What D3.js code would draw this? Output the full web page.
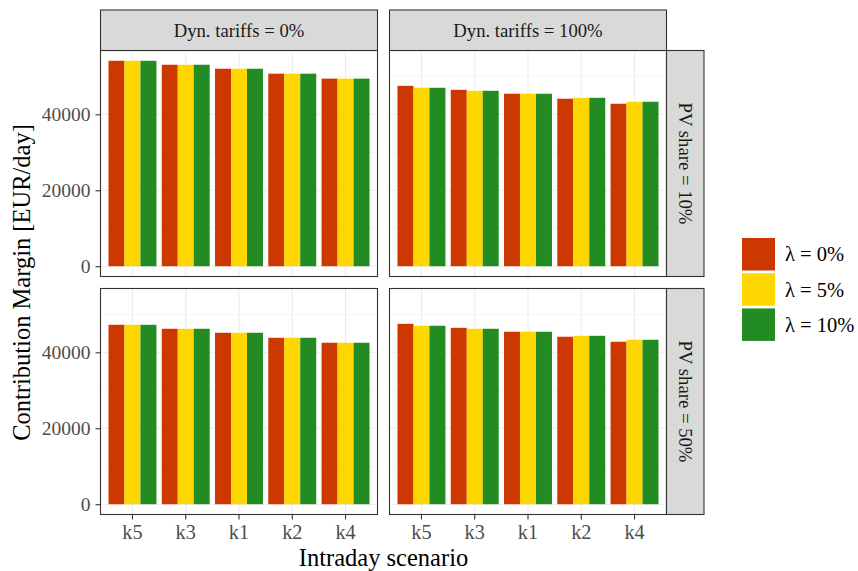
<!DOCTYPE html>
<html><head><meta charset="utf-8">
<script src="https://cdn.jsdelivr.net/npm/d3@7"></script>
<style>body{margin:0;background:#fff}svg{display:block;font-family:"Liberation Serif","Times New Roman",serif}</style>
</head><body><svg id="c" width="858" height="571"></svg>
<script>
const scenarios = ["k5","k3","k1","k2","k4"];
const lambdas = ["λ = 0%","λ = 5%","λ = 10%"];
const tariffs = ["Dyn. tariffs = 0%","Dyn. tariffs = 100%"];
const pvShares = ["PV share = 10%","PV share = 50%"];
const colors = ["#CD3700","#FFD700","#228B22"];
const yTicks = [0,20000,40000];
const yMinor = [10000,30000,50000];

// values per scenario, one array per panel and lambda
const pv10_dyn0_l0  = [54100,53050,52000,50700,49400];
const pv10_dyn0_l5  = [54100,53050,52000,50700,49400];
const pv10_dyn0_l10 = [54100,53050,52000,50700,49400];
const pv10_dyn100_l0  = [47500,46450,45420,44100,42780];
const pv10_dyn100_l5  = [46990,46200,45420,44350,43310];
const pv10_dyn100_l10 = [46990,46200,45420,44350,43310];
const pv50_dyn0_l0  = [47250,46200,45150,43830,42520];
const pv50_dyn0_l5  = [47250,46200,45150,43830,42520];
const pv50_dyn0_l10 = [47250,46200,45150,43830,42520];
const pv50_dyn100_l0  = [47500,46450,45420,44100,42780];
const pv50_dyn100_l5  = [46990,46200,45420,44350,43310];
const pv50_dyn100_l10 = [46990,46200,45420,44350,43310];

const panelData = [
  [[pv10_dyn0_l0,pv10_dyn0_l5,pv10_dyn0_l10],[pv10_dyn100_l0,pv10_dyn100_l5,pv10_dyn100_l10]],
  [[pv50_dyn0_l0,pv50_dyn0_l5,pv50_dyn0_l10],[pv50_dyn100_l0,pv50_dyn100_l5,pv50_dyn100_l10]]
];

const svg = d3.select("#c");
const colX = [100.5, 389.5], PW = 277;
const rowY = [50.5, 288.5], PH = 226;
const stripTop = 10;
const stripRW = 37.5;
const FT = 19.5, FS = 18.7, FL = 20.5, FA = 24.5;

const maxV = d3.max(panelData.flat(2).flat());
const yDom = [-0.05*maxV, 1.05*maxV];
const x0 = d3.scaleBand().domain(scenarios).range([0,PW]).paddingInner(0.1).paddingOuter(0.15);
const x1 = d3.scaleBand().domain(d3.range(3)).range([0,x0.bandwidth()]);

const grey20 = "#333333", grid = "#EBEBEB", tickCol = "#4D4D4D";

panelData.forEach((row, r) => {
  row.forEach((series, c) => {
    const y = d3.scaleLinear().domain(yDom).range([PH,0]);
    const g = svg.append("g").attr("transform",`translate(${colX[c]},${rowY[r]})`);
    g.append("rect").attr("width",PW).attr("height",PH).attr("fill","#fff");
    g.selectAll(".mn").data(yMinor).join("line").attr("x1",0).attr("x2",PW)
      .attr("y1",d=>y(d)).attr("y2",d=>y(d)).attr("stroke",grid).attr("stroke-width",0.55);
    g.selectAll(".mj").data(yTicks).join("line").attr("x1",0).attr("x2",PW)
      .attr("y1",d=>y(d)).attr("y2",d=>y(d)).attr("stroke",grid).attr("stroke-width",1.1);
    g.selectAll(".vx").data(scenarios).join("line")
      .attr("x1",d=>x0(d)+x0.bandwidth()/2).attr("x2",d=>x0(d)+x0.bandwidth()/2)
      .attr("y1",0).attr("y2",PH).attr("stroke",grid).attr("stroke-width",1.1);
    series.forEach((vals, li) => {
      g.selectAll(null).data(vals).join("rect")
        .attr("x",(d,i)=>x0(scenarios[i])+x1(li))
        .attr("width",x1.bandwidth())
        .attr("y",d=>y(d)).attr("height",d=>y(0)-y(d))
        .attr("fill",colors[li]);
    });
    g.append("rect").attr("width",PW).attr("height",PH).attr("fill","none")
      .attr("stroke",grey20).attr("stroke-width",1.1);
    if (c===0) {
      const ax = g.append("g").call(d3.axisLeft(y).tickValues(yTicks).tickSize(5).tickSizeOuter(0).tickPadding(5).tickFormat(d3.format("d")));
      ax.select(".domain").remove();
      ax.selectAll(".tick line").attr("stroke",grey20).attr("stroke-width",1.1);
      ax.selectAll(".tick text").attr("fill",tickCol).attr("font-size",FT).attr("font-family","Liberation Serif");
    }
    if (r===1) {
      const ax = g.append("g").attr("transform",`translate(0,${PH})`)
        .call(d3.axisBottom(x0).tickSize(5).tickSizeOuter(0).tickPadding(5));
      ax.select(".domain").remove();
      ax.selectAll(".tick line").attr("stroke",grey20).attr("stroke-width",1.1);
      ax.selectAll(".tick text").attr("fill",tickCol).attr("font-size",FT+0.8).attr("font-family","Liberation Serif");
    }
  });
});

// top strips
tariffs.forEach((t,c)=>{
  const g = svg.append("g").attr("transform",`translate(${colX[c]},${stripTop})`);
  g.append("rect").attr("width",PW).attr("height",rowY[0]-stripTop).attr("fill","#D9D9D9")
    .attr("stroke",grey20).attr("stroke-width",1.1);
  g.append("text").attr("x",PW/2).attr("y",(rowY[0]-stripTop)/2).attr("dy","0.35em")
    .attr("text-anchor","middle").attr("font-size",FS).attr("fill","#1A1A1A").text(t);
});
// right strips
pvShares.forEach((p,r)=>{
  const sx = colX[1]+PW;
  const g = svg.append("g").attr("transform",`translate(${sx},${rowY[r]})`);
  g.append("rect").attr("width",stripRW).attr("height",PH).attr("fill","#D9D9D9")
    .attr("stroke",grey20).attr("stroke-width",1.1);
  g.append("text").attr("transform",`translate(${stripRW/2},${PH/2}) rotate(90)`)
    .attr("dy","0.35em").attr("text-anchor","middle").attr("font-size",FS).attr("fill","#1A1A1A").text(p);
});

// axis titles
svg.append("text").attr("x",(colX[0]+colX[1]+PW)/2).attr("y",566).attr("text-anchor","middle")
  .attr("font-size",FA).attr("fill","#000").text("Intraday scenario");
svg.append("text").attr("transform",`translate(30,${(rowY[0]+rowY[1]+PH)/2}) rotate(-90)`)
  .attr("text-anchor","middle").attr("font-size",FA).attr("fill","#000").text("Contribution Margin [EUR/day]");

// legend
const lg = svg.append("g").attr("transform","translate(742,238)");
lambdas.forEach((l,i)=>{
  lg.append("rect").attr("x",0).attr("y",i*35.2).attr("width",33).attr("height",32.5).attr("fill",colors[i]);
  lg.append("text").attr("x",43).attr("y",i*35.2+16.25).attr("dy","0.35em").attr("font-size",FL).attr("fill","#000").text(l);
});
</script></body></html>
